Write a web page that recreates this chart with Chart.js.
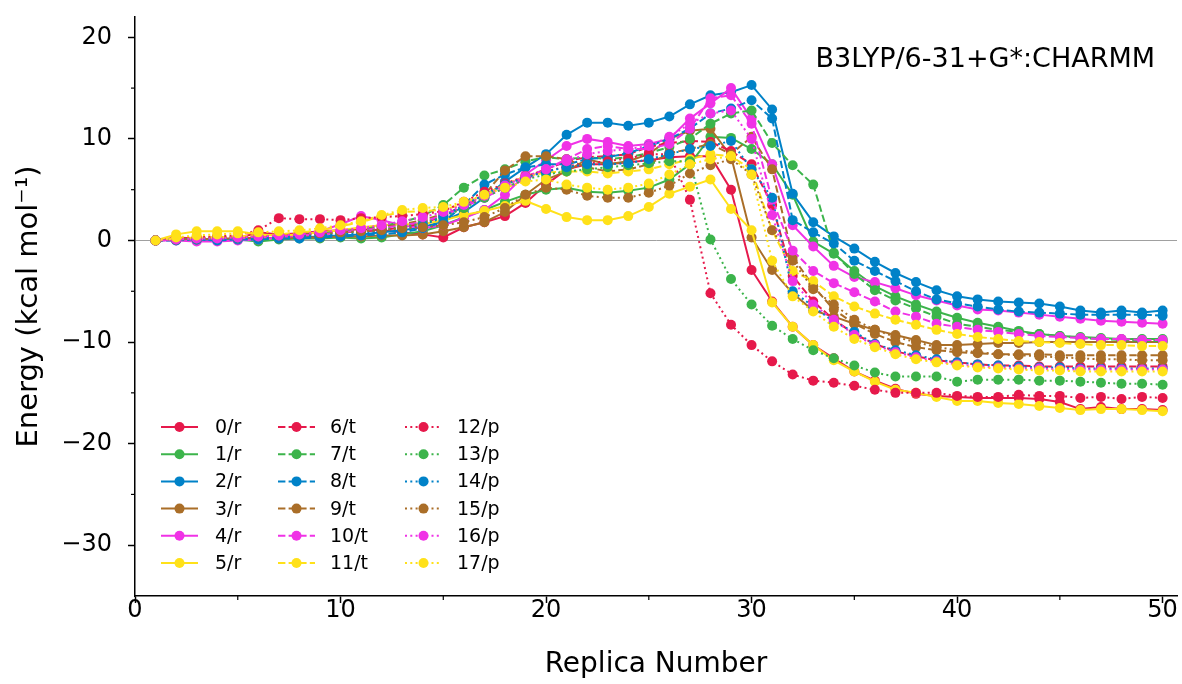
<!DOCTYPE html>
<html><head><meta charset="utf-8">
<script src="https://cdn.jsdelivr.net/npm/chart.js@4"></script>
<style>html,body{margin:0;padding:0;background:#fff}</style>
</head><body>
<canvas id="c" width="1182" height="684"></canvas>
<script>
const replicas = [1,2,3,4,5,6,7,8,9,10,11,12,13,14,15,16,17,18,19,20,21,22,23,24,25,26,27,28,29,30,31,32,33,34,35,36,37,38,39,40,41,42,43,44,45,46,47,48,49,50];
const seriesLabels = ['0/r','1/r','2/r','3/r','4/r','5/r','6/t','7/t','8/t','9/t','10/t','11/t','12/p','13/p','14/p','15/p','16/p','17/p'];
const xMajorTicks = [0,10,20,30,40,50];
const xMinorTicks = [5,15,25,35,45];
const yMajorTicks = [-30,-20,-10,0,10,20];
const yMinorTicks = [-25,-15,-5,5,15];
const annotationText = 'B3LYP/6-31+G*:CHARMM';

const r0 = [0,0.3,0.2,0.1,0.2,0.8,0.6,0.7,0.9,1.0, 1.1,1.0,0.8,0.6,0.3,1.3,1.8,2.4,3.7,5.5, 7.0,7.5,7.5,7.7,7.9,8.2,8.3,8.3,5.0,-2.9, -6.0,-8.5,-10.3,-11.6,-12.9,-13.8,-14.6,-15.1,-15.3,-15.4, -15.5,-15.5,-15.5,-15.6,-15.9,-16.6,-16.4,-16.6,-16.6,-16.7];
const r1 = [0,0.1,0.2,0.1,0.1,-0.1,0.1,0.2,0.2,0.3, 0.2,0.3,0.6,0.9,1.5,2.3,3.0,3.8,4.5,5.0, 5.2,4.8,4.7,4.9,5.2,6.0,7.5,10.2,10.1,9.0, 7.5,4.5,-0.1,-1.3,-3.0,-4.5,-5.5,-6.3,-7.0,-7.6, -8.1,-8.5,-8.9,-9.2,-9.4,-9.5,-9.6,-9.7,-9.7,-9.7];
const r2 = [0,0.1,0.0,0.1,0.1,0.2,0.3,0.3,0.4,0.5, 0.6,0.8,1.0,1.3,1.9,2.8,4.2,5.8,7.2,8.5, 10.4,11.6,11.6,11.3,11.6,12.2,13.4,14.3,14.6,15.3, 12.9,4.6,1.8,0.4,-0.8,-2.1,-3.2,-4.1,-4.9,-5.5, -5.8,-6.0,-6.1,-6.2,-6.5,-6.9,-7.1,-6.9,-7.1,-6.9];
const r3 = [0,0.1,0.1,0.2,0.2,0.3,0.2,0.3,0.3,0.4, 0.4,0.5,0.5,0.6,0.9,1.3,1.8,2.8,4.5,6.0, 6.8,8.0,7.5,7.8,8.5,10.0,10.8,11.0,8.3,0.3, -2.9,-5.2,-6.9,-7.5,-8.2,-8.8,-9.3,-9.8,-10.3,-10.3, -10.2,-10.1,-10.1,-10.0,-10.0,-10.0,-10.0,-10.0,-10.0,-10.0];
const r4 = [0,0.0,-0.1,-0.1,0.0,0.1,0.3,0.5,0.9,1.6, 2.4,2.0,1.5,1.2,1.5,2.2,3.0,4.5,6.5,7.9, 9.3,10.0,9.7,9.3,9.5,10.0,12.0,13.5,15.0,12.0, 7.5,1.5,-0.6,-2.5,-3.6,-4.1,-4.7,-5.4,-5.9,-6.4, -6.8,-6.9,-7.1,-7.3,-7.5,-7.7,-7.9,-8.0,-8.1,-8.2];
const r5 = [0,0.6,0.9,0.9,0.9,0.6,0.5,0.6,0.8,1.0, 1.3,1.5,1.6,1.6,2.0,2.5,2.9,3.4,3.9,3.1, 2.3,2.0,2.0,2.4,3.3,4.6,5.3,6.0,3.1,1.0, -6.1,-8.5,-10.3,-11.8,-12.9,-13.9,-14.7,-15.0,-15.4,-15.8, -15.8,-16.0,-16.1,-16.3,-16.5,-16.7,-16.6,-16.6,-16.7,-16.8];
const t6 = [0,0.1,0.2,0.3,0.3,0.4,0.5,0.6,0.7,0.8, 0.9,1.0,1.3,1.7,2.4,3.5,4.5,5.5,6.3,7.0, 7.8,8.2,8.3,8.5,9.2,9.6,9.8,9.7,8.8,7.5, 3.5,-3.5,-6.0,-7.8,-9.2,-10.2,-10.9,-11.4,-11.8,-12.0, -12.2,-12.3,-12.3,-12.4,-12.4,-12.4,-12.4,-12.4,-12.4,-12.4];
const t7 = [0,0.1,0.1,0.2,0.3,0.3,0.4,0.5,0.7,0.9, 1.1,1.4,1.8,2.4,3.5,5.2,6.4,7.0,7.8,8.2, 8.0,8.2,8.0,8.2,8.6,9.2,10.0,11.5,12.5,12.8, 9.6,7.4,5.5,-1.2,-3.3,-4.9,-5.9,-6.7,-7.5,-8.2, -8.5,-8.8,-9.0,-9.2,-9.4,-9.6,-9.7,-9.8,-9.9,-9.9];
const t8 = [0,0.0,0.1,0.0,0.1,0.1,0.2,0.2,0.3,0.4, 0.5,0.6,0.8,1.2,1.8,3.5,5.5,6.5,7.2,7.5, 7.5,8.0,8.2,8.6,9.3,10.0,11.0,12.5,13.0,13.8, 12.0,2.0,0.8,-0.3,-2.0,-3.0,-4.0,-5.0,-5.8,-6.2, -6.5,-6.8,-7.0,-7.1,-7.2,-7.3,-7.3,-7.3,-7.3,-7.4];
const t9 = [0,0.1,0.2,0.2,0.3,0.3,0.4,0.5,0.6,0.8, 1.0,1.3,1.6,2.0,2.6,3.2,4.5,6.9,8.3,8.3, 8.0,7.2,6.8,7.0,7.5,8.6,9.0,9.5,8.5,10.2, 7.0,-1.6,-4.5,-6.8,-8.2,-9.2,-10.0,-10.5,-10.8,-11.0, -11.1,-11.2,-11.2,-11.2,-11.3,-11.3,-11.3,-11.3,-11.3,-11.3];
const t10 = [0,0.1,0.1,0.2,0.2,0.3,0.4,0.5,0.6,0.8, 1.0,1.2,1.5,1.8,2.5,3.3,4.2,5.2,6.0,7.0, 8.0,9.0,9.3,9.0,9.0,9.5,11.0,14.0,14.3,11.5, 4.0,-1.0,-3.0,-4.2,-5.1,-6.0,-7.0,-7.5,-8.2,-8.5, -8.8,-9.0,-9.2,-9.4,-9.5,-9.6,-9.7,-9.7,-9.8,-9.8];
const t11 = [0,0.2,0.3,0.3,0.4,0.5,0.6,0.8,1.0,1.4, 1.8,2.4,2.8,2.9,3.0,3.6,4.5,5.5,6.3,6.7, 6.8,6.8,6.6,6.8,7.0,7.5,8.0,8.5,8.3,7.0, 1.0,-3.0,-4.0,-5.5,-6.5,-7.2,-7.8,-8.3,-8.8,-9.2, -9.5,-9.7,-9.9,-10.0,-10.1,-10.2,-10.3,-10.3,-10.4,-10.4];
const p12 = [0,0.2,0.3,0.4,0.5,1.0,2.2,2.1,2.1,2.0, 2.2,2.3,2.4,2.6,2.9,3.8,4.8,5.6,6.3,6.8, 7.3,7.6,7.8,8.1,8.5,8.5,4.0,-5.2,-8.3,-10.3, -11.9,-13.2,-13.8,-14.0,-14.3,-14.7,-15.0,-15.0,-15.0,-15.3, -15.4,-15.4,-15.2,-15.3,-15.3,-15.5,-15.4,-15.6,-15.4,-15.5];
const p13 = [0,0.1,0.1,0.2,0.2,0.3,0.4,0.5,0.6,0.7, 0.9,1.1,1.3,1.7,2.3,3.2,4.2,5.2,6.0,6.5, 6.8,7.0,7.2,7.4,7.6,7.8,7.8,0.1,-3.8,-6.3, -8.4,-9.7,-10.8,-11.6,-12.3,-13.0,-13.4,-13.4,-13.4,-13.9, -13.7,-13.7,-13.7,-13.8,-13.8,-13.9,-14.0,-14.1,-14.1,-14.2];
const p14 = [0,0.1,0.1,0.1,0.2,0.2,0.3,0.4,0.5,0.6, 0.7,0.9,1.1,1.5,2.3,3.5,4.5,5.5,6.2,6.8, 7.2,7.5,7.5,7.6,8.0,8.5,9.0,9.3,9.8,7.0, 4.2,-5.0,-6.5,-8.0,-9.0,-10.2,-10.8,-11.3,-11.7,-12.0, -12.2,-12.3,-12.4,-12.5,-12.5,-12.6,-12.6,-12.6,-12.6,-12.6];
const p15 = [0,0.1,0.2,0.3,0.3,0.4,0.5,0.6,0.7,0.8, 0.9,1.0,1.2,1.3,1.5,1.8,2.3,3.2,4.5,5.2, 5.0,4.4,4.2,4.2,4.7,5.4,6.6,7.4,8.0,6.5, 1.0,-2.0,-4.8,-6.3,-7.8,-8.8,-9.5,-10.0,-10.5,-10.8, -11.0,-11.2,-11.3,-11.4,-11.5,-11.6,-11.7,-11.7,-11.8,-11.8];
const p16 = [0,0.1,0.2,0.2,0.3,0.4,0.5,0.6,0.8,1.0, 1.2,1.5,1.9,2.3,2.8,3.5,4.4,5.4,6.3,7.0, 7.8,8.5,8.8,9.0,9.3,10.2,11.5,12.5,12.8,10.0, 2.5,-4.0,-6.3,-7.8,-9.3,-10.3,-11.0,-11.5,-11.9,-12.2, -12.4,-12.5,-12.6,-12.6,-12.7,-12.7,-12.7,-12.7,-12.7,-12.7];
const p17 = [0,0.3,0.5,0.6,0.7,0.8,0.9,1.0,1.2,1.5, 1.9,2.5,3.0,3.2,3.3,3.8,4.5,5.2,5.8,6.0, 5.5,5.2,5.0,5.2,5.6,6.5,7.5,8.0,8.3,6.5, -2.0,-5.5,-7.0,-8.5,-9.7,-10.5,-11.2,-11.7,-12.0,-12.3, -12.5,-12.6,-12.7,-12.8,-12.8,-12.9,-12.9,-12.9,-12.9,-12.9];

const seriesValues = [r0,r1,r2,r3,r4,r5,t6,t7,t8,t9,t10,t11,p12,p13,p14,p15,p16,p17];
const palette = ['#e6194b','#3cb44b','#0082c8','#aa6e28','#f032e6','#ffe119'];
const dashStyles = [[], [7.4,3.2], [2,3.3]];
const FONT = "'DejaVu Sans', sans-serif";
const fmt = v => (v < 0 ? '\u2212' + Math.abs(v) : String(v));

const datasets = seriesValues.map((vals, i) => ({
  label: seriesLabels[i],
  data: vals.map((v, k) => ({x: replicas[k], y: v})),
  borderColor: palette[i % 6],
  backgroundColor: palette[i % 6],
  pointBackgroundColor: palette[i % 6],
  pointBorderWidth: 0,
  pointRadius: 5,
  borderWidth: 2,
  borderDash: dashStyles[Math.floor(i / 6)],
  tension: 0,
  fill: false,
  order: seriesValues.length - i
}));

const extras = {
  id: 'extras',
  afterDraw(chart) {
    const ctx = chart.ctx, xs = chart.scales.x, ys = chart.scales.y, ca = chart.chartArea;
    ctx.save();
    ctx.strokeStyle = '#000'; ctx.lineWidth = 1.2;
    xMinorTicks.forEach(v => { const px = xs.getPixelForValue(v); ctx.beginPath(); ctx.moveTo(px, ca.bottom); ctx.lineTo(px, ca.bottom + 4); ctx.stroke(); });
    yMinorTicks.forEach(v => { const py = ys.getPixelForValue(v); ctx.beginPath(); ctx.moveTo(ca.left, py); ctx.lineTo(ca.left - 4, py); ctx.stroke(); });
    // annotation
    ctx.fillStyle = '#000'; ctx.font = '27px ' + FONT; ctx.textAlign = 'right'; ctx.textBaseline = 'alphabetic';
    ctx.fillText(annotationText, ca.right - 22, ca.top + 50);
    // legend
    ctx.font = '19px ' + FONT; ctx.textAlign = 'left'; ctx.textBaseline = 'middle';
    const colX = [ca.left + 26, ca.left + 143, ca.left + 270];
    const textOff = [54, 52, 52];
    const rowH = 27.2, y0 = ca.bottom - 169;
    chart.data.datasets.forEach((ds, i) => {
      const col = Math.floor(i / 6), row = i % 6;
      const x = colX[col], y = y0 + row * rowH;
      ctx.strokeStyle = ds.borderColor; ctx.lineWidth = 2; ctx.setLineDash(ds.borderDash);
      ctx.beginPath(); ctx.moveTo(x, y); ctx.lineTo(x + 37, y); ctx.stroke();
      ctx.setLineDash([]);
      ctx.fillStyle = ds.borderColor; ctx.beginPath(); ctx.arc(x + 18.5, y, 5, 0, Math.PI * 2); ctx.fill();
      ctx.fillStyle = '#000'; ctx.fillText(ds.label, x + textOff[col], y + 1);
    });
    ctx.restore();
  }
};

new Chart(document.getElementById('c'), {
  type: 'line',
  data: { datasets },
  plugins: [extras],
  options: {
    responsive: false, animation: false,
    layout: { padding: { top: 17, right: 5, left: 0, bottom: 0 } },
    plugins: { legend: { display: false }, tooltip: { enabled: false } },
    scales: {
      x: {
        type: 'linear', min: 0, max: 50.7,
        afterBuildTicks: s => { s.ticks = xMajorTicks.map(v => ({ value: v })); },
        afterFit: s => { s.height = 88; s.paddingLeft = 0; s.paddingRight = 0; },
        ticks: { autoSkip: false, maxRotation: 0, font: { family: FONT, size: 24, lineHeight: 1 }, color: '#000', padding: -4, callback: v => fmt(v) },
        grid: { drawOnChartArea: false, tickLength: 7, tickColor: '#000', tickWidth: 1.5 },
        border: { color: '#000', width: 1.5 },
        title: { display: true, text: 'Replica Number', font: { family: FONT, size: 28 }, color: '#000', padding: { top: 4, bottom: 2 } }
      },
      y: {
        type: 'linear', min: -35, max: 22,
        afterBuildTicks: s => { s.ticks = yMajorTicks.map(v => ({ value: v })); },
        afterFit: s => { s.width = 135; s.paddingTop = 0; s.paddingBottom = 0; },
        ticks: { autoSkip: false, font: { family: FONT, size: 24 }, color: '#000', padding: 16, callback: v => fmt(v) },
        grid: { drawOnChartArea: true, color: c => (c.tick && c.tick.value === 0 ? '#a0a0a0' : 'rgba(0,0,0,0)'), lineWidth: 1, tickLength: 7, tickColor: '#000', tickWidth: 1.5 },
        border: { color: '#000', width: 1.5 },
        title: { display: true, text: 'Energy (kcal mol\u207B\u00B9)', font: { family: FONT, size: 29 }, color: '#000', padding: { top: 12, bottom: 4 } }
      }
    }
  }
});
</script>
</body></html>
